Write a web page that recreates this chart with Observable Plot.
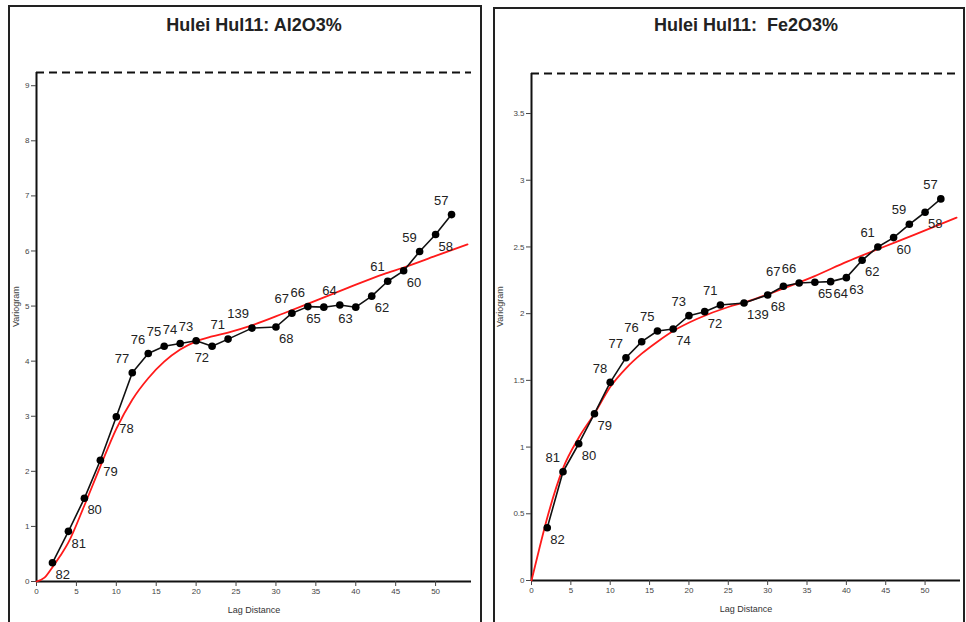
<!DOCTYPE html>
<html>
<head>
<meta charset="utf-8">
<script src="https://cdn.jsdelivr.net/npm/d3@7"></script>
<script src="https://cdn.jsdelivr.net/npm/@observablehq/plot@0.6"></script>
<style>
  body { margin: 0; background: #fff; font-family: "Liberation Sans", Arial, sans-serif; }
  #wrap { position: relative; width: 966px; height: 622px; overflow: hidden; background: #fff; }
  .box { position: absolute; border: 2px solid #222; box-sizing: border-box; }
  .chart { position: absolute; top: 0; }
</style>
</head>
<body>
<div id="wrap">
  <div class="box" style="left:8px;top:5px;width:474px;height:630px;"></div>
  <div class="box" style="left:493px;top:7px;width:472px;height:630px;"></div>
  <div class="chart" id="left" style="left:8px;"></div>
  <div class="chart" id="right" style="left:493px;"></div>
</div>
<script>
// ---- data ----
const lags = [2, 4, 6, 8, 10, 12, 14, 16, 18, 20, 22, 24, 27, 30, 32, 34, 36, 38, 40, 42, 44, 46, 48, 50, 52];
const pairCounts = [82, 81, 80, 79, 78, 77, 76, 75, 74, 73, 72, 71, 139, 68, 67, 66, 65, 64, 63, 62, 61, 60, 59, 58, 57];

const al2o3Values = [0.34, 0.91, 1.51, 2.20, 2.99, 3.79, 4.14, 4.27, 4.32, 4.37, 4.27, 4.40, 4.60, 4.62, 4.87, 4.99, 4.98, 5.02, 4.98, 5.18, 5.45, 5.64, 5.99, 6.30, 6.66];
const al2o3LabelSide = ["lr","lr","lr","lr","lr","ul","ul","ul","ul","ul","ll","ul","ul","lr","ul","ul","ll","ul","ll","lr","ul","lr","ul","lr","ul"];
const al2o3ModelLags = [0, 1, 2, 3, 4, 6, 8, 10, 12, 14, 16, 18, 20, 22, 24, 27, 31, 35, 39, 43.5, 46, 50, 54];
const al2o3ModelValues = [0, 0.07, 0.26, 0.47, 0.71, 1.38, 2.09, 2.77, 3.30, 3.69, 3.99, 4.21, 4.36, 4.45, 4.52, 4.65, 4.87, 5.10, 5.33, 5.58, 5.70, 5.91, 6.12];
const al2o3Sill = 9.24;
const al2o3Ticks = [0, 1, 2, 3, 4, 5, 6, 7, 8, 9];

const fe2o3Values = [0.395, 0.815, 1.025, 1.25, 1.485, 1.67, 1.79, 1.87, 1.885, 1.985, 2.015, 2.065, 2.08, 2.14, 2.205, 2.23, 2.235, 2.24, 2.27, 2.40, 2.50, 2.57, 2.67, 2.76, 2.86];
const fe2o3LabelSide = ["lr","ul","lr","lr","ul","ul","ul","ul","lr","ul","lr","ul","lr","lr","ul","ul","lr","lr","lr","lr","ul","lr","ul","lr","ul"];
const fe2o3ModelLags = [0, 1, 2, 4, 6, 8, 10, 12, 14, 16, 18, 21, 25, 27.4, 31.6, 35.9, 40.1, 44.3, 48.6, 54];
const fe2o3ModelValues = [0, 0.24, 0.47, 0.84, 1.07, 1.25, 1.45, 1.59, 1.70, 1.79, 1.87, 1.96, 2.05, 2.09, 2.18, 2.28, 2.39, 2.49, 2.59, 2.72];
const fe2o3Sill = 3.80;
const fe2o3Ticks = [0, 0.5, 1, 1.5, 2, 2.5, 3, 3.5];

const xTicks = [0, 5, 10, 15, 20, 25, 30, 35, 40, 45, 50];

// ---- build ----
function makeChart(cfg) {
  const pts = lags.map((h, i) => ({h, v: cfg.values[i], n: pairCounts[i], side: cfg.sides[i]}));
  const model = cfg.modelLags.map((h, i) => ({h, v: cfg.modelValues[i]}));
  const labelStyle = {x: "h", y: "v", text: d => String(d.n), fontSize: 13, fill: "#222", fontFamily: "Liberation Sans, Arial, sans-serif"};
  return Plot.plot({
    width: cfg.width,
    height: 622,
    marginLeft: cfg.ml,
    marginRight: cfg.mr,
    marginTop: cfg.mt,
    marginBottom: cfg.mb,
    style: {fontFamily: "Liberation Sans, Arial, sans-serif", background: "transparent", overflow: "visible"},
    x: {domain: [0, 54.5]},
    y: {domain: [0, cfg.sill]},
    marks: [
      Plot.ruleY([cfg.sill], {stroke: "#111", strokeWidth: 2, strokeDasharray: "8,5"}),
      Plot.ruleX([0], {y1: 0, y2: cfg.sill, stroke: "#111", strokeWidth: 2}),
      Plot.ruleY([0], {stroke: "#111", strokeWidth: 2}),
      Plot.axisX({ticks: xTicks, tickSize: 5, tickPadding: 2, fontSize: 8, color: "#444", label: null, tickFormat: d => String(d)}),
      Plot.axisY({ticks: cfg.ticks, tickSize: 5, tickPadding: 2, fontSize: 8, color: "#444", label: null, tickFormat: d => String(d)}),
      Plot.line(model, {x: "h", y: "v", stroke: "#ff1a1a", strokeWidth: 1.8, curve: "monotone-x"}),
      Plot.line(pts, {x: "h", y: "v", stroke: "#111", strokeWidth: 1.6}),
      Plot.dot(pts, {x: "h", y: "v", r: 3.8, fill: "#000", stroke: "none"}),
      Plot.text(pts.filter(d => d.side === "ul"), {...labelStyle, textAnchor: "end", dx: -3, dy: -14}),
      Plot.text(pts.filter(d => d.side === "lr"), {...labelStyle, textAnchor: "start", dx: 3, dy: 12}),
      Plot.text(pts.filter(d => d.side === "ll"), {...labelStyle, textAnchor: "end", dx: -3, dy: 12}),
      Plot.text([cfg.title], {frameAnchor: "top", dy: cfg.titleDy, fontSize: 18, fontWeight: "bold", fill: "#222"}),
      Plot.text(["Lag Distance"], {frameAnchor: "bottom", dy: 31, fontSize: 9, fill: "#333"}),
      Plot.text(["Variogram"], {frameAnchor: "left", dx: cfg.ylabDx, rotate: -90, fontSize: 9, fill: "#444"})
    ]
  });
}

document.getElementById("left").appendChild(makeChart({
  width: 474, ml: 28, mr: 11, mt: 72, mb: 41,
  values: al2o3Values, sides: al2o3LabelSide,
  modelLags: al2o3ModelLags, modelValues: al2o3ModelValues,
  sill: al2o3Sill, ticks: al2o3Ticks,
  title: "Hulei Hul11: Al2O3%", titleDy: -54, ylabDx: -20
}));
document.getElementById("right").appendChild(makeChart({
  width: 473, ml: 38, mr: 6, mt: 73, mb: 42,
  values: fe2o3Values, sides: fe2o3LabelSide,
  modelLags: fe2o3ModelLags, modelValues: fe2o3ModelValues,
  sill: fe2o3Sill, ticks: fe2o3Ticks,
  title: "Hulei Hul11:  Fe2O3%", titleDy: -55, ylabDx: -31
}));
</script>
</body>
</html>
